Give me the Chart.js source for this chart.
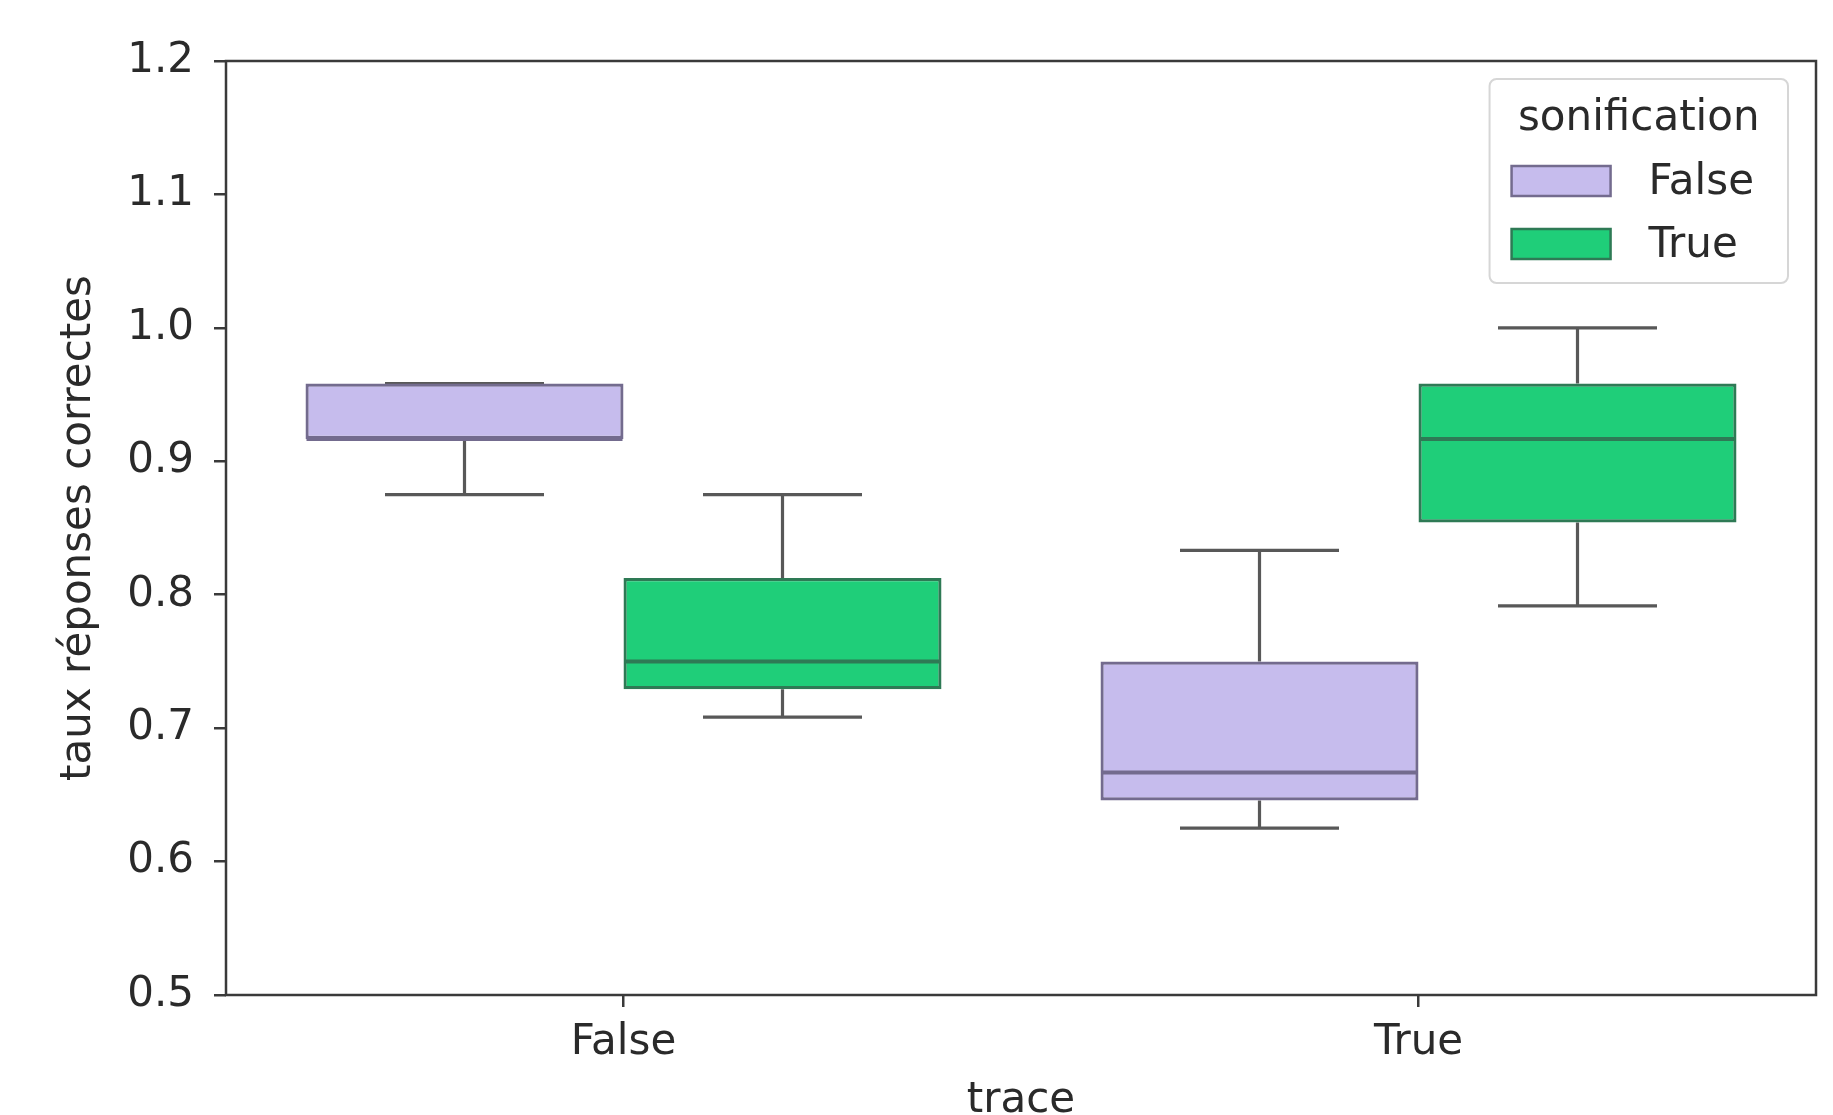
<!DOCTYPE html>
<html>
<head>
<meta charset="utf-8">
<script src="https://cdn.jsdelivr.net/npm/chart.js@4"></script>
<style>
  html, body { margin: 0; padding: 0; background: #fff; overflow: hidden; }
  #chart { display: block; }
</style>
</head>
<body>
<canvas id="chart" width="1833" height="1115"></canvas>
<script>
// categories on the x axis (trace) and hue levels (sonification)
var traceLabels = ['False', 'True'];
var hueLabels = ['False', 'True'];
var legendTitle = 'sonification';
var yTicks = [0.5, 0.6, 0.7, 0.8, 0.9, 1.0, 1.1, 1.2];

// box statistics, one value per trace category
var sonFalseMin = [0.875, 0.625];
var sonFalseQ1 = [0.9167, 0.6458];
var sonFalseMedian = [0.9167, 0.6667];
var sonFalseQ3 = [0.9583, 0.75];
var sonFalseMax = [0.9583, 0.8333];

var sonTrueMin = [0.7083, 0.7917];
var sonTrueQ1 = [0.7292, 0.8542];
var sonTrueMedian = [0.75, 0.9167];
var sonTrueQ3 = [0.8125, 0.9583];
var sonTrueMax = [0.875, 1.0];

var fillColors = ['#c6bced', '#1fce79'];
var edgeColors = ['#736b8e', '#2e7a55'];
var whiskerColor = '#585858';
var frameColor = '#3a3a3a';
var textColor = '#2a2a2a';
var fontFamily = '"DejaVu Sans", sans-serif';

var stats = [
    { min: sonFalseMin, q1: sonFalseQ1, med: sonFalseMedian, q3: sonFalseQ3, max: sonFalseMax },
    { min: sonTrueMin, q1: sonTrueQ1, med: sonTrueMedian, q3: sonTrueQ3, max: sonTrueMax }
];

function boxData(s) {
    return s.q1.map(function (v, i) { return [v, s.q3[i]]; });
}

// whiskers and caps go under the boxes, medians on top
var boxPlotPlugin = {
    id: 'boxParts',
    beforeDatasetsDraw: function (chart) {
        var ctx = chart.ctx;
        var y = chart.scales.y;
        ctx.save();
        ctx.strokeStyle = whiskerColor;
        ctx.lineWidth = 3.2;
        stats.forEach(function (s, d) {
            chart.getDatasetMeta(d).data.forEach(function (bar, i) {
                var x = bar.x, cap = bar.width / 4;
                ctx.beginPath();
                ctx.moveTo(x, y.getPixelForValue(s.q3[i]));
                ctx.lineTo(x, y.getPixelForValue(s.max[i]));
                ctx.moveTo(x, y.getPixelForValue(s.q1[i]));
                ctx.lineTo(x, y.getPixelForValue(s.min[i]));
                [s.max[i], s.min[i]].forEach(function (v) {
                    var py = y.getPixelForValue(v);
                    ctx.moveTo(x - cap, py);
                    ctx.lineTo(x + cap, py);
                });
                ctx.stroke();
            });
        });
        ctx.restore();
    },
    afterDatasetsDraw: function (chart) {
        var ctx = chart.ctx;
        var y = chart.scales.y;
        ctx.save();
        ctx.lineWidth = 4;
        stats.forEach(function (s, d) {
            ctx.strokeStyle = edgeColors[d];
            chart.getDatasetMeta(d).data.forEach(function (bar, i) {
                var half = bar.width / 2;
                var my = y.getPixelForValue(s.med[i]);
                ctx.beginPath();
                ctx.moveTo(bar.x - half + 1, my);
                ctx.lineTo(bar.x + half - 1, my);
                ctx.stroke();
            });
        });
        ctx.restore();
    }
};

// full frame round the plot area
var framePlugin = {
    id: 'frame',
    afterDraw: function (chart) {
        var a = chart.chartArea, ctx = chart.ctx;
        ctx.save();
        ctx.strokeStyle = frameColor;
        ctx.lineWidth = 2.5;
        ctx.strokeRect(a.left, a.top, a.right - a.left, a.bottom - a.top);
        ctx.restore();
    }
};

// legend with a title, inside the top right corner
var legendPlugin = {
    id: 'hueLegend',
    afterDraw: function (chart) {
        var ctx = chart.ctx, a = chart.chartArea;
        ctx.save();
        ctx.font = '42px ' + fontFamily;
        var patchW = 99, patchH = 30, gap = 38, padL = 22, padR = 34;
        var labelW = Math.max.apply(null, hueLabels.map(function (t) { return ctx.measureText(t).width; }));
        var titleW = ctx.measureText(legendTitle).width;
        var w = Math.max(titleW + 2 * padL, padL + patchW + gap + labelW + padR);
        var h = 204;
        var x0 = a.right - 28 - w, y0 = a.top + 18;

        ctx.beginPath();
        ctx.roundRect(x0, y0, w, h, 7);
        ctx.fillStyle = 'rgba(255,255,255,0.85)';
        ctx.fill();
        ctx.strokeStyle = '#d6d6d6';
        ctx.lineWidth = 2;
        ctx.stroke();

        ctx.fillStyle = textColor;
        ctx.textBaseline = 'middle';
        ctx.textAlign = 'center';
        ctx.fillText(legendTitle, x0 + w / 2, y0 + 40);

        ctx.textAlign = 'left';
        hueLabels.forEach(function (lab, k) {
            var cy = y0 + 102 + k * 63;
            ctx.fillStyle = fillColors[k];
            ctx.fillRect(x0 + padL, cy - patchH / 2, patchW, patchH);
            ctx.strokeStyle = edgeColors[k];
            ctx.lineWidth = 2.5;
            ctx.strokeRect(x0 + padL, cy - patchH / 2, patchW, patchH);
            ctx.fillStyle = textColor;
            ctx.fillText(lab, x0 + padL + patchW + gap, cy + 2);
        });
        ctx.restore();
    }
};

var datasets = hueLabels.map(function (lab, d) {
    return {
        label: lab,
        data: boxData(stats[d]),
        backgroundColor: fillColors[d],
        borderColor: edgeColors[d],
        borderWidth: 3.2,
        borderSkipped: false,
        categoryPercentage: 0.8,
        barPercentage: 1.0
    };
});

var tickFont = { family: fontFamily, size: 42 };

new Chart(document.getElementById('chart'), {
    type: 'bar',
    data: { labels: traceLabels, datasets: datasets },
    plugins: [boxPlotPlugin, framePlugin, legendPlugin],
    options: {
        responsive: false,
        animation: false,
        devicePixelRatio: 1,
        layout: { padding: { left: 0, right: 17, top: 61, bottom: 0 } },
        plugins: {
            legend: { display: false },
            tooltip: { enabled: false }
        },
        scales: {
            x: {
                offset: true,
                grid: { display: true, drawOnChartArea: false, offset: false, tickLength: 12, color: frameColor, lineWidth: 2.5 },
                border: { display: false },
                ticks: { color: textColor, font: tickFont, padding: 11 },
                title: { display: true, text: 'trace', color: textColor, font: tickFont, padding: { top: 0, bottom: -11 } },
                afterFit: function (scale) { scale.height = 120; }
            },
            y: {
                min: 0.5,
                max: 1.2,
                afterBuildTicks: function (scale) {
                    scale.ticks = yTicks.map(function (v) { return { value: v }; });
                },
                grid: { display: true, drawOnChartArea: false, tickLength: 12, color: frameColor, lineWidth: 2.5 },
                border: { display: false },
                ticks: {
                    color: textColor,
                    font: tickFont,
                    padding: 20,
                    callback: function (v) { return Number(v).toFixed(1); }
                },
                title: { display: true, text: 'taux réponses correctes', color: textColor, font: tickFont, padding: { top: 54, bottom: 0 } },
                afterFit: function (scale) { scale.width = 226; }
            }
        }
    }
});
</script>
</body>
</html>
